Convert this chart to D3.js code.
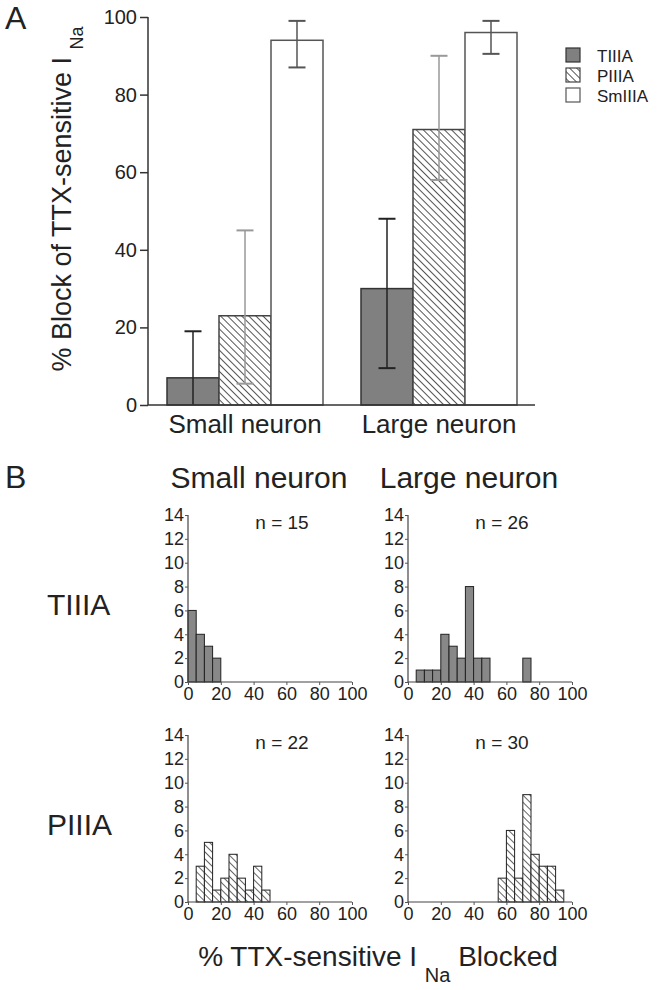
<!DOCTYPE html>
<html>
<head>
<meta charset="utf-8">
<script src="https://cdn.jsdelivr.net/npm/d3@7"></script>
<style>
  html, body { margin: 0; padding: 0; background: #fff; }
  svg { display: block; font-family: "Liberation Sans", Arial, sans-serif; }
</style>
</head>
<body>
<svg id="chart" width="670" height="990"></svg>
<script>
// ---------- DATA ----------
const categories = ["Small neuron", "Large neuron"];
const toxins = ["TIIIA", "PIIIA", "SmIIIA"];
// mean % block, per toxin, per category
const meanTIIIA = [7, 30];
const meanPIIIA = [23, 71];
const meanSmIIIA = [94, 96];
// error bar bounds (lower, upper)
const lowTIIIA = [0, 9.5];
const highTIIIA = [19, 48];
const lowPIIIA = [5.5, 58];
const highPIIIA = [45, 90];
const lowSmIIIA = [87, 90.5];
const highSmIIIA = [99, 99];
const yTicksA = [0, 20, 40, 60, 80, 100];

// histograms: counts per 5% bin (0-5, 5-10, ..., 95-100)
const binStarts = [0,5,10,15,20,25,30,35,40,45,50,55,60,65,70,75,80,85,90,95];
const histSmallTIIIA = [6,4,3,2,0,0,0,0,0,0,0,0,0,0,0,0,0,0,0,0];
const histLargeTIIIA = [0,1,1,1,4,3,2,8,2,2,0,0,0,0,2,0,0,0,0,0];
const histSmallPIIIA = [0,3,5,1,2,4,2,1,3,1,0,0,0,0,0,0,0,0,0,0];
const histLargePIIIA = [0,0,0,0,0,0,0,0,0,0,0,2,6,2,9,4,3,3,1,0];
const nLabels = ["n = 15", "n = 26", "n = 22", "n = 30"];
const histXTicks = [0, 20, 40, 60, 80, 100];
const histYTicks = [0, 2, 4, 6, 8, 10, 12, 14];

// ---------- SETUP ----------
const svg = d3.select("#chart");
const defs = svg.append("defs");

function hatch(id, stroke) {
  const p = defs.append("pattern")
    .attr("id", id)
    .attr("patternUnits", "userSpaceOnUse")
    .attr("width", 5).attr("height", 5)
    .attr("patternTransform", "rotate(45)");
  p.append("rect").attr("width", 5).attr("height", 5).attr("fill", "#fff");
  p.append("line").attr("x1", 0).attr("x2", 5).attr("y1", 2.5).attr("y2", 2.5)
    .attr("stroke", stroke).attr("stroke-width", 1);
}
hatch("hatchA", "#555");
hatch("hatchB", "#666");

const fills = { TIIIA: "#808080", PIIIA: "url(#hatchA)", SmIIIA: "#fff" };
const strokes = { TIIIA: "#333", PIIIA: "#444", SmIIIA: "#555" };
const errColors = { TIIIA: "#222", PIIIA: "#999", SmIIIA: "#555" };

// ---------- PANEL A ----------
const yA = d3.scaleLinear().domain([0, 100]).range([405, 17]);
const xA = d3.scaleBand().domain(categories).range([167, 517]).paddingInner(38 / 194).paddingOuter(0);
const xInner = d3.scaleBand().domain(toxins).range([0, xA.bandwidth()]);

const barData = [];
categories.forEach((c, i) => {
  barData.push({ cat: c, tox: "TIIIA", v: meanTIIIA[i], lo: lowTIIIA[i], hi: highTIIIA[i] });
  barData.push({ cat: c, tox: "PIIIA", v: meanPIIIA[i], lo: lowPIIIA[i], hi: highPIIIA[i] });
  barData.push({ cat: c, tox: "SmIIIA", v: meanSmIIIA[i], lo: lowSmIIIA[i], hi: highSmIIIA[i] });
});

const gA = svg.append("g");
gA.selectAll("rect.bar").data(barData).enter().append("rect")
  .attr("class", "bar")
  .attr("x", d => xA(d.cat) + xInner(d.tox))
  .attr("y", d => yA(d.v))
  .attr("width", xInner.bandwidth())
  .attr("height", d => yA(0) - yA(d.v))
  .attr("fill", d => fills[d.tox])
  .attr("stroke", d => strokes[d.tox])
  .attr("stroke-width", 1.5);

// error bars
const capW = 17;
const eb = gA.selectAll("g.err").data(barData).enter().append("g").attr("class", "err");
eb.append("line")
  .attr("x1", d => xA(d.cat) + xInner(d.tox) + xInner.bandwidth() / 2)
  .attr("x2", d => xA(d.cat) + xInner(d.tox) + xInner.bandwidth() / 2)
  .attr("y1", d => yA(d.lo)).attr("y2", d => yA(d.hi))
  .attr("stroke", d => errColors[d.tox]).attr("stroke-width", 1.5);
eb.append("line")
  .attr("x1", d => xA(d.cat) + xInner(d.tox) + xInner.bandwidth() / 2 - capW / 2)
  .attr("x2", d => xA(d.cat) + xInner(d.tox) + xInner.bandwidth() / 2 + capW / 2)
  .attr("y1", d => yA(d.hi)).attr("y2", d => yA(d.hi))
  .attr("stroke", d => errColors[d.tox]).attr("stroke-width", 2);
eb.filter(d => d.lo > 0).append("line")
  .attr("x1", d => xA(d.cat) + xInner(d.tox) + xInner.bandwidth() / 2 - capW / 2)
  .attr("x2", d => xA(d.cat) + xInner(d.tox) + xInner.bandwidth() / 2 + capW / 2)
  .attr("y1", d => yA(d.lo)).attr("y2", d => yA(d.lo))
  .attr("stroke", d => errColors[d.tox]).attr("stroke-width", 2);

// axes
const yAxisA = gA.append("g").attr("transform", "translate(148,0)")
  .call(d3.axisLeft(yA).tickValues(yTicksA).tickSize(8).tickPadding(3));
yAxisA.select(".domain").attr("stroke", "#333").attr("stroke-width", 1.5).attr("d", `M0,${yA(100)}V${yA(0)}`);
yAxisA.selectAll(".tick line").attr("stroke", "#333").attr("stroke-width", 1.5);
yAxisA.selectAll(".tick text").attr("font-size", 20).attr("fill", "#222")
  .attr("font-family", "Liberation Sans, Arial, sans-serif");

gA.append("line").attr("x1", 148).attr("x2", 535).attr("y1", yA(0)).attr("y2", yA(0))
  .attr("stroke", "#333").attr("stroke-width", 1.5);

gA.selectAll("text.cat").data(categories).enter().append("text")
  .attr("class", "cat")
  .attr("x", d => xA(d) + xA.bandwidth() / 2)
  .attr("y", 433)
  .attr("text-anchor", "middle")
  .attr("font-size", 26).attr("fill", "#222")
  .text(d => d);

// y title
const yt = gA.append("text")
  .attr("transform", "translate(71,199) rotate(-90)")
  .attr("text-anchor", "middle")
  .attr("font-size", 27).attr("fill", "#222");
yt.append("tspan").text("% Block of TTX-sensitive I ");
yt.append("tspan").attr("font-size", 18).attr("dy", 12).text("Na");

// panel letter
svg.append("text").attr("x", 5).attr("y", 29).attr("font-size", 32).attr("fill", "#222").text("A");

// legend
const leg = gA.selectAll("g.leg").data(toxins).enter().append("g")
  .attr("class", "leg")
  .attr("transform", (d, i) => `translate(566,${48 + i * 20})`);
leg.append("rect").attr("width", 14).attr("height", 14)
  .attr("fill", d => d === "PIIIA" ? "url(#hatchA)" : fills[d])
  .attr("stroke", d => strokes[d]).attr("stroke-width", 1.2);
leg.append("text").attr("x", 31).attr("y", 14).attr("font-size", 17).attr("fill", "#222").text(d => d);

// ---------- PANEL B ----------
svg.append("text").attr("x", 5).attr("y", 488).attr("font-size", 32).attr("fill", "#222").text("B");
const colHeads = [{ t: "Small neuron", x: 259 }, { t: "Large neuron", x: 469 }];
svg.selectAll("text.colhead").data(colHeads).enter().append("text")
  .attr("class", "colhead").attr("x", d => d.x).attr("y", 488)
  .attr("text-anchor", "middle").attr("font-size", 30).attr("fill", "#222").text(d => d.t);

const rowHeads = [{ t: "TIIIA", y: 615 }, { t: "PIIIA", y: 835 }];
svg.selectAll("text.rowhead").data(rowHeads).enter().append("text")
  .attr("class", "rowhead").attr("x", 47).attr("y", d => d.y)
  .attr("font-size", 30).attr("fill", "#222").text(d => d.t);

const hists = [
  { counts: histSmallTIIIA, tox: "TIIIA", ox: 188, oy: 682, n: nLabels[0] },
  { counts: histLargeTIIIA, tox: "TIIIA", ox: 408, oy: 682, n: nLabels[1] },
  { counts: histSmallPIIIA, tox: "PIIIA", ox: 188, oy: 902, n: nLabels[2] },
  { counts: histLargePIIIA, tox: "PIIIA", ox: 408, oy: 902, n: nLabels[3] }
];

hists.forEach(h => {
  const x = d3.scaleLinear().domain([0, 100]).range([h.ox, h.ox + 164]);
  const y = d3.scaleLinear().domain([0, 14]).range([h.oy, h.oy - 167]);
  const g = svg.append("g");
  const bins = binStarts.map((s, i) => ({ s: s, c: h.counts[i] })).filter(d => d.c > 0);
  g.selectAll("rect").data(bins).enter().append("rect")
    .attr("x", d => x(d.s)).attr("width", x(5) - x(0))
    .attr("y", d => y(d.c)).attr("height", d => y(0) - y(d.c))
    .attr("fill", h.tox === "TIIIA" ? "#888" : "url(#hatchB)")
    .attr("stroke", "#222").attr("stroke-width", 1);

  const xa = g.append("g").attr("transform", `translate(0,${h.oy})`)
    .call(d3.axisBottom(x).tickValues(histXTicks).tickSize(3).tickPadding(2));
  xa.select(".domain").attr("stroke", "#444").attr("stroke-width", 1.2).attr("d", `M${x(0)},0H${x(100)}`);
  xa.selectAll(".tick line").attr("stroke", "#555");
  xa.selectAll(".tick text").attr("font-size", 18).attr("fill", "#222")
    .attr("font-family", "Liberation Sans, Arial, sans-serif");

  const ya = g.append("g").attr("transform", `translate(${h.ox},0)`)
    .call(d3.axisLeft(y).tickValues(histYTicks).tickSize(3).tickPadding(1));
  ya.select(".domain").attr("stroke", "#444").attr("stroke-width", 1.2).attr("d", `M0,${y(14)}V${y(0)}`);
  ya.selectAll(".tick line").attr("stroke", "#555");
  ya.selectAll(".tick text").attr("font-size", 18).attr("fill", "#222")
    .attr("font-family", "Liberation Sans, Arial, sans-serif");

  g.append("text").attr("x", h.ox + 94).attr("y", h.oy - 153)
    .attr("text-anchor", "middle").attr("font-size", 19).attr("fill", "#222").text(h.n);
});

// bottom title
const bt = svg.append("text").attr("x", 378).attr("y", 966)
  .attr("text-anchor", "middle").attr("font-size", 28).attr("fill", "#222");
bt.append("tspan").text("% TTX-sensitive I ");
bt.append("tspan").attr("font-size", 20).attr("dy", 16).text("Na");
bt.append("tspan").attr("dy", -16).text(" Blocked");
</script>
</body>
</html>
